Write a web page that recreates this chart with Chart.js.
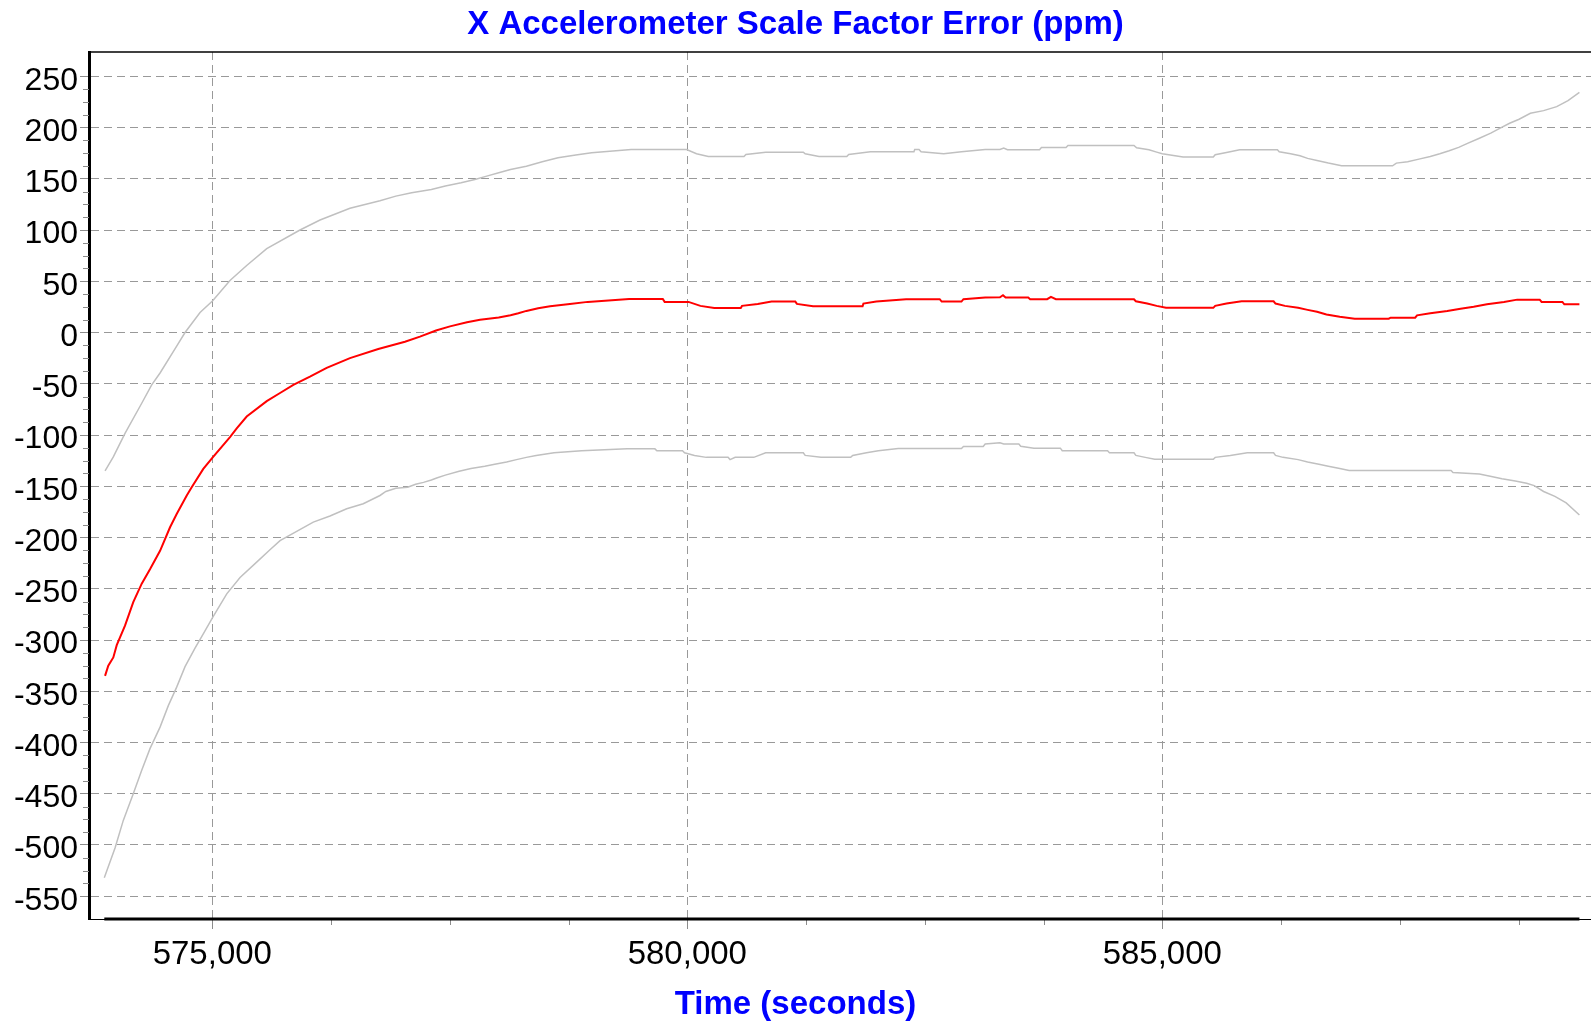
<!DOCTYPE html>
<html><head><meta charset="utf-8">
<script src="https://cdn.jsdelivr.net/npm/chart.js@4.4.1/dist/chart.umd.min.js"></script>
<style>html,body{margin:0;padding:0;background:#fff;overflow:hidden}canvas{display:block}</style>
</head><body>
<canvas id="c" width="1591" height="1023"></canvas>
<script>
// ---- data ----
const chartTitle = "X Accelerometer Scale Factor Error (ppm)";
const xAxisTitle = "Time (seconds)";

// estimate (red)
const estX = [573871,573905,573958,573994,574081,574168,574257,574344,574450,574555,574625,574731,574783,574905,575011,575186,575257,575362,575573,575713,575853,576028,576204,576449,576747,577028,577186,577355,577502,577681,577818,578015,578139,578222,578306,578430,578556,578764,578952,579388,579742,579762,580013,580138,580284,580563,580576,580742,580887,581137,581154,581324,581845,581854,581990,582303,582657,582678,582886,582907,583136,583291,583323,583351,583589,583609,583788,583828,583880,584702,584722,584841,584941,585040,585537,585557,585676,585835,586172,586192,586291,586430,586530,586629,586728,586868,587026,587384,587404,587662,587682,587821,588000,588140,588278,588418,588597,588736,588973,588993,589212,589232,589391];
const estY = [-335,-325,-317,-305,-286,-263,-245,-231,-213,-190,-177,-159,-151,-133,-121,-102,-93.5,-82,-67,-59,-51,-43,-34.5,-25,-16,-9,-4,2,6,10,12.5,14.6,16.9,18.8,21.1,23.7,25.6,27.9,29.9,32.8,32.8,29.9,29.9,26,24,24,26,27.9,30.2,30.2,27.9,25.6,25.6,28.2,30.2,32.5,32.5,30.2,30.2,32.5,34.1,34.4,36.4,34.1,34.1,32.5,32.5,34.8,32.5,32.5,30.5,28.3,26,24.1,24.1,26,28.3,30.5,30.5,28.3,26,24.1,22.1,20.2,17.6,15.3,13.5,13.5,14.5,14.5,16.8,18.7,21,23.3,25.2,27.5,29.8,32.1,32.1,29.8,29.8,27.5,27.5];

// upper bound (gray)
const upX = [573871,573958,574081,574257,574362,574450,574625,574713,574871,575004,575186,575362,575573,575923,576134,576449,576765,576932,577098,577306,577453,577619,577764,577889,578015,578139,578306,578473,578639,578826,578993,579409,579993,580097,580221,580597,580617,580825,581221,581241,581387,581679,581699,581928,582386,582394,582439,582461,582699,582886,583136,583291,583331,583370,583708,583728,583987,584007,584702,584730,584860,584941,585000,585219,585537,585557,585676,585815,586212,586231,586351,586450,586530,586629,586748,586887,587424,587464,587583,587702,587821,587921,588020,588120,588219,588338,588458,588557,588656,588756,588875,589014,589152,589271,589391];
const upY = [-135,-121.4,-98.4,-69,-51,-39.5,-13.2,0,19.5,31,50.7,65.4,81.8,100,109.8,121.2,128.5,133.1,136.4,139.6,142.9,146.1,149.4,152.6,155.8,159.1,162.3,166.6,170.5,173.1,175.3,178.6,178.6,174.4,171.8,171.8,173.7,176,176,174.4,171.8,171.8,173.7,176.3,176.3,178.6,178.6,176.3,174.4,176.3,178.6,178.5,179.9,178.3,178.3,180.6,180.6,182.5,182.5,180.2,178.3,176,174.4,171.2,171.2,173.4,175.7,178.3,178.3,176.3,174.4,172.5,169.9,167.9,165.3,162.7,162.7,165.3,166.6,169.2,171.8,174.4,177.3,180.6,184.8,189.6,194.5,199.4,204.2,208.1,213.9,216.5,220.4,226.2,234.3];

// lower bound (gray)
const loX = [573863,573976,574063,574168,574257,574344,574450,574537,574625,574713,574818,574905,575004,575152,575292,575467,575607,575713,575888,576063,576239,576415,576589,576765,576827,576932,577057,577140,577223,577306,577369,577453,577598,577723,577868,577973,578098,578202,578306,578409,578597,578888,579367,579659,579680,579950,579971,580076,580200,580429,580450,580504,580700,580825,581221,581241,581408,581720,581741,581886,582011,582220,582886,582907,583115,583136,583291,583331,583490,583510,583649,583927,583947,584424,584444,584702,584722,584821,584921,585537,585557,585716,585895,586172,586192,586271,586430,586530,586649,586748,586868,586967,588040,588060,588338,588477,588576,588716,588835,588915,589014,589133,589252,589391];
const loY = [-532,-503,-476,-450,-427,-406,-385,-364,-346,-326,-308,-294,-278,-255,-239,-224,-212,-203,-194,-185,-179,-172,-167,-159,-155.1,-151.9,-151,-148.1,-146.2,-143.9,-141.7,-139.1,-135.3,-132.7,-130.4,-128.5,-126.3,-124,-121.8,-119.9,-117.3,-115.4,-113.5,-113.5,-115.4,-115.4,-117.3,-119.9,-121.8,-121.8,-124,-121.8,-121.8,-117.3,-117.3,-119.9,-121.8,-121.8,-119.9,-117.3,-115.4,-113.1,-113.1,-111.2,-111.2,-108.7,-107.5,-108.7,-108.7,-110.9,-112.8,-112.8,-115.4,-115.4,-117.3,-117.3,-119.9,-121.8,-123.7,-123.7,-121.8,-119.9,-117.3,-117.3,-119.9,-121.8,-124,-126.3,-128.5,-130.4,-132.7,-134.6,-134.6,-136.5,-138.1,-140.7,-142.6,-144.9,-147.1,-149.4,-155.1,-159.9,-166.3,-178];

// axes
const xRange = [573702, 589513];
const yRange = [-572.2, 273.7];
const xTickValues = [575000, 580000, 585000];
const yTickValues = [-550,-500,-450,-400,-350,-300,-250,-200,-150,-100,-50,0,50,100,150,200,250];
const xMinorStep = 1250, yMinorStep = 12.5;

// ---- chart ----
const FAMILY = "'Liberation Sans', Arial, sans-serif";
const pts = (xs, ys) => xs.map((x, i) => ({x, y: ys[i]}));
const dataMinX = Math.min(estX[0], upX[0], loX[0]);
const dataMaxX = Math.max(estX[estX.length-1], upX[upX.length-1], loX[loX.length-1]);

const decor = {
  id: 'decor',
  afterDraw(chart) {
    const {ctx, chartArea: a, scales: {x, y}} = chart;
    ctx.save();
    ctx.strokeStyle = '#8c8c8c';
    ctx.lineWidth = 1;
    ctx.beginPath();
    for (let v = xTickValues[0]; v <= xRange[1]; v += xMinorStep) {
      if (xTickValues.includes(v)) continue;
      const px = Math.round(x.getPixelForValue(v)) + 0.5;
      ctx.moveTo(px, a.bottom); ctx.lineTo(px, a.bottom + 6);
    }
    for (let v = yTickValues[0]; v <= yTickValues[yTickValues.length-1]; v += yMinorStep) {
      if (yTickValues.includes(v)) continue;
      const py = Math.round(y.getPixelForValue(v)) + 0.5;
      ctx.moveTo(a.left - 6, py); ctx.lineTo(a.left, py);
    }
    ctx.stroke();
    // top frame line
    ctx.strokeStyle = '#000';
    ctx.lineWidth = 1.5;
    ctx.beginPath();
    ctx.moveTo(a.left, a.top); ctx.lineTo(a.right, a.top);
    ctx.stroke();
    // thick x axis over data span
    ctx.lineWidth = 3;
    ctx.beginPath();
    ctx.moveTo(x.getPixelForValue(dataMinX), a.bottom);
    ctx.lineTo(x.getPixelForValue(dataMaxX), a.bottom);
    ctx.stroke();
    ctx.restore();
  }
};

new Chart(document.getElementById('c'), {
  type: 'line',
  data: {
    datasets: [
      {label: 'Upper', data: pts(upX, upY), borderColor: '#c0c0c0', borderWidth: 1.5},
      {label: 'Lower', data: pts(loX, loY), borderColor: '#c0c0c0', borderWidth: 1.5},
      {label: 'Estimate', data: pts(estX, estY), borderColor: '#ff0000', borderWidth: 2}
    ]
  },
  options: {
    responsive: false,
    animation: false,
    devicePixelRatio: 1,
    elements: {point: {radius: 0}, line: {tension: 0}},
    layout: {padding: 0},
    plugins: {
      legend: {display: false},
      tooltip: {enabled: false},
      title: {
        display: true, text: chartTitle, color: '#0000ff',
        font: {family: FAMILY, size: 33, weight: 'bold', lineHeight: 1.2},
        padding: {top: 5, bottom: 7.4}
      },
      subtitle: {
        display: true, position: 'bottom', text: xAxisTitle, color: '#0000ff',
        font: {family: FAMILY, size: 33, weight: 'bold', lineHeight: 1.1},
        padding: {top: 0, bottom: 0}
      }
    },
    scales: {
      x: {
        type: 'linear', min: xRange[0], max: xRange[1],
        afterBuildTicks(s) { s.ticks = xTickValues.map(v => ({value: v})); },
        afterFit(s) { s.height = 1023 - 36.3 - 919; },
        border: {display: true, color: '#000', width: 1, dash: [8, 5]},
        grid: {color: '#999999', lineWidth: 1, drawTicks: true, tickLength: 10,
               tickColor: '#8c8c8c', tickBorderDash: [100, 0], tickWidth: 1},
        ticks: {maxRotation: 0, autoSkip: false,
                padding: 6, color: '#000', font: {family: FAMILY, size: 33},
                callback: v => Number(v).toLocaleString('en-US')}
      },
      y: {
        type: 'linear', min: yRange[0], max: yRange[1],
        afterBuildTicks(s) { s.ticks = yTickValues.map(v => ({value: v})); },
        afterFit(s) { s.width = 89; },
        border: {display: true, color: '#000', width: 3, dash: [8, 5]},
        grid: {color: '#999999', lineWidth: 1, drawTicks: true, tickLength: 9,
               tickColor: '#8c8c8c', tickBorderDash: [100, 0], tickWidth: 1},
        ticks: {autoSkip: false, padding: 2,
                labelOffset: 4.5, color: '#000', font: {family: FAMILY, size: 32},
                callback: v => String(v)}
      }
    }
  },
  plugins: [decor]
});
</script>
</body></html>
